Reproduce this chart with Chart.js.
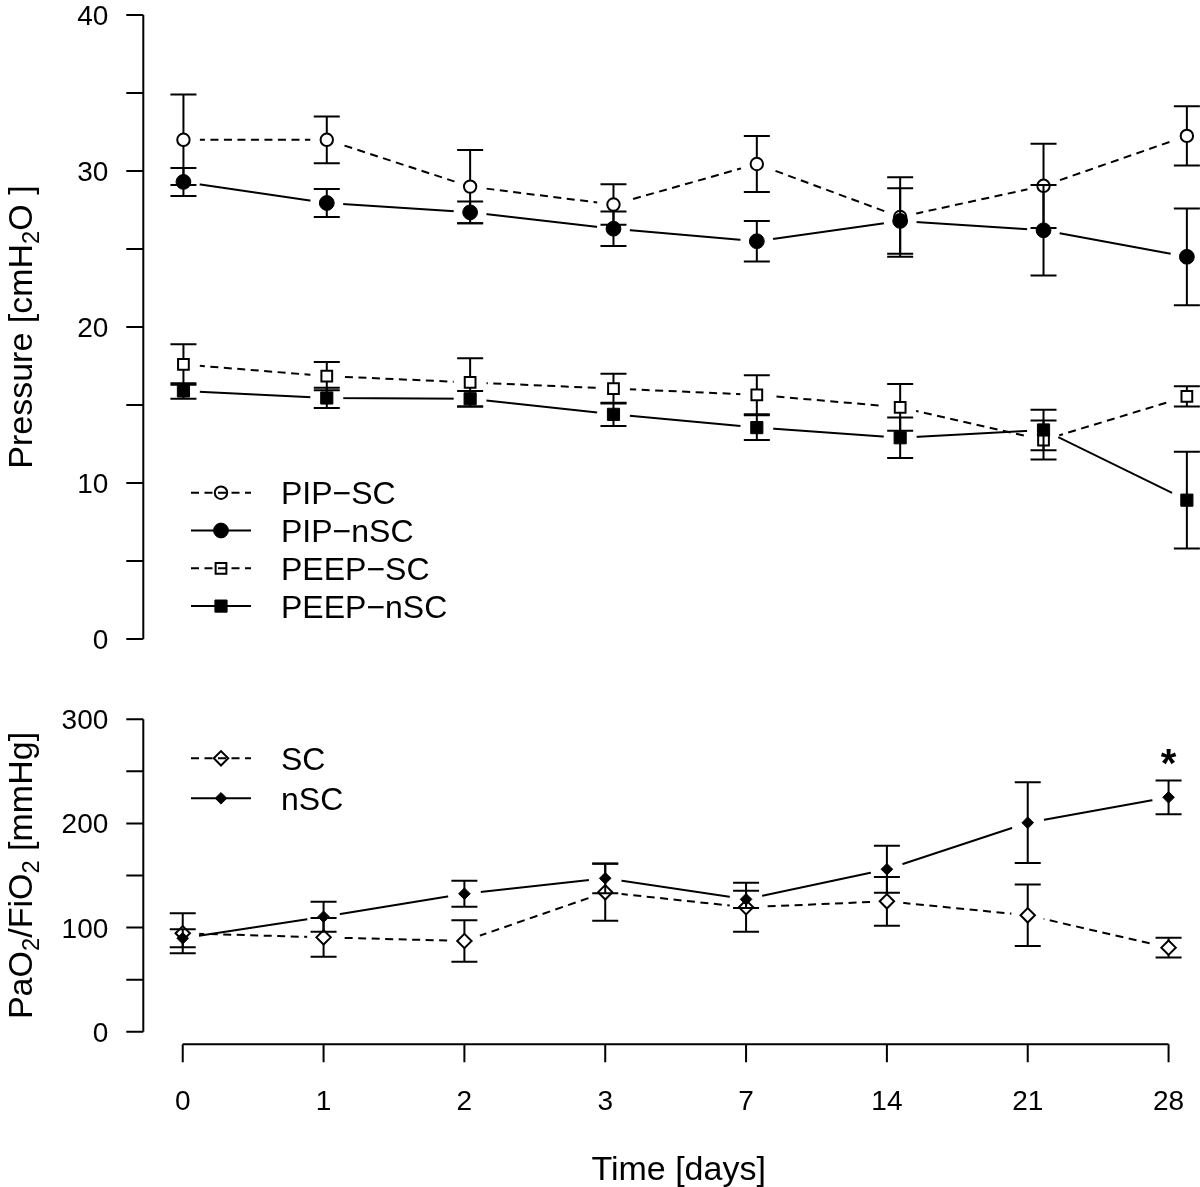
<!DOCTYPE html>
<html>
<head>
<meta charset="utf-8">
<title>Pressure and PaO2/FiO2 over time</title>
<script src="https://cdn.jsdelivr.net/npm/chart.js"></script>
<style>
  html, body { margin: 0; padding: 0; background: #fff; overflow: hidden; }
  #wrap { position: relative; width: 1200px; height: 1187px; overflow: hidden; background: #fff; }
  canvas { position: absolute; left: 0; }
  #chart_pressure { top: 0; }
  #chart_pf { top: 690px; }
</style>
</head>
<body>
<div id="wrap">
  <canvas id="chart_pressure" width="1227" height="660"></canvas>
  <canvas id="chart_pf" width="1208" height="497"></canvas>
</div>
<script>
// time points (days)
const days = ['0', '1', '2', '3', '7', '14', '21', '28'];

// PIP / PEEP in cmH2O: mean and half length of the error bar
const pipSC      = [32.0, 32.0, 29.0, 27.85, 30.45, 27.05, 29.05, 32.25];
const pipSCErr   = [2.9, 1.5, 2.35, 1.3, 1.8, 2.55, 2.7, 1.9];
const pipNSC     = [29.3, 27.95, 27.35, 26.3, 25.5, 26.8, 26.2, 24.5];
const pipNSCErr  = [0.9, 0.9, 0.7, 1.1, 1.3, 2.1, 2.9, 3.1];
const peepSC     = [17.6, 16.85, 16.45, 16.05, 15.65, 14.85, 12.75, 15.55];
const peepSCErr  = [1.3, 0.9, 1.55, 0.95, 1.25, 1.5, 1.25, 0.65];
const peepNSC    = [15.9, 15.45, 15.4, 14.4, 13.55, 12.9, 13.4, 8.9];
const peepNSCErr = [0.5, 0.65, 0.5, 0.75, 0.8, 1.3, 1.3, 3.1];

// PaO2/FiO2 in mmHg
const pfSC     = [94.5, 90.6, 87.1, 133.9, 119.5, 125.2, 111.8, 80.7];
const pfSCErr  = [19.2, 18.6, 20.0, 27.3, 23.5, 23.4, 29.5, 9.5];
const pfNSC    = [89.7, 110.4, 132.5, 147.3, 127.1, 156.0, 200.7, 225.1];
const pfNSCErr = [8.6, 14.4, 12.4, 14.3, 8.3, 22.6, 38.8, 16.2];

// axis ticks
const pressureTicks  = [0, 5, 10, 15, 20, 25, 30, 35, 40];
const pressureLabels = [0, 10, 20, 30, 40];
const pfTicks  = [0, 50, 100, 150, 200, 250, 300];
const pfLabels = [0, 100, 200, 300];

// significance marks (bottom panel)
const starDays   = ['28'];
const starValues = [264];

const FONT = '"Liberation Sans", Arial, Helvetica, sans-serif';
const DASH = [8, 5.5];
const TICK_SIZE = 28;
const TITLE_SIZE = 34;

// draw a marker shape like chart.js does
function shapePath(ctx, shape, x, y, r) {
    ctx.beginPath();
    if (shape === 'circle') {
        ctx.arc(x, y, r, 0, Math.PI * 2);
    } else if (shape === 'rect') {
        let s = Math.SQRT1_2 * r;
        ctx.rect(x - s, y - s, 2 * s, 2 * s);
    } else {
        ctx.moveTo(x - r, y);
        ctx.lineTo(x, y - r);
        ctx.lineTo(x + r, y);
        ctx.lineTo(x, y + r);
        ctx.closePath();
    }
}

// text with subscripts, centred on 0 along the baseline
function drawRich(ctx, parts, size) {
    let widths = [];
    let total = 0;
    parts.forEach(function(p) {
        ctx.font = (p.sub ? size * 0.7 : size) + 'px ' + FONT;
        let w = ctx.measureText(p.t).width;
        widths.push(w);
        total += w;
    });
    let x = -total / 2;
    parts.forEach(function(p, i) {
        ctx.font = (p.sub ? size * 0.7 : size) + 'px ' + FONT;
        ctx.fillText(p.t, x, p.sub ? size * 0.22 : 0);
        x += widths[i];
    });
}

// R style axes, error bars, gaps round the points, legend
function rPlugin(cfg) {
    return {
        id: 'rStyle',
        beforeDatasetDraw(chart, args) {
            let ds = chart.data.datasets[args.index];
            let ctx = chart.ctx;
            if (ds.gapRadius) {
                // leave a gap round every point, like type = "b"
                ctx.save();
                ctx.beginPath();
                ctx.rect(0, 0, chart.width, chart.height);
                args.meta.data.forEach(function(pt) {
                    ctx.moveTo(pt.x + ds.gapRadius, pt.y);
                    ctx.arc(pt.x, pt.y, ds.gapRadius, 0, Math.PI * 2, true);
                });
                ctx.clip('evenodd');
            }
            if (ds.errs) {
                let yScale = chart.scales.y;
                ctx.save();
                ctx.strokeStyle = '#000';
                ctx.lineWidth = 2;
                ctx.setLineDash([]);
                args.meta.data.forEach(function(pt, i) {
                    let v = ds.data[i].y;
                    let top = yScale.getPixelForValue(v + ds.errs[i]);
                    let bot = yScale.getPixelForValue(v - ds.errs[i]);
                    ctx.beginPath();
                    ctx.moveTo(pt.x, top);
                    ctx.lineTo(pt.x, bot);
                    ctx.moveTo(pt.x - 13, top);
                    ctx.lineTo(pt.x + 13, top);
                    ctx.moveTo(pt.x - 13, bot);
                    ctx.lineTo(pt.x + 13, bot);
                    ctx.stroke();
                });
                ctx.restore();
            }
        },
        afterDatasetDraw(chart, args) {
            let ds = chart.data.datasets[args.index];
            if (ds.gapRadius) chart.ctx.restore();
        },
        afterDraw(chart) {
            let ctx = chart.ctx;
            let area = chart.chartArea;
            let xScale = chart.scales.x;
            let yScale = chart.scales.y;
            ctx.save();
            ctx.strokeStyle = '#000';
            ctx.fillStyle = '#000';
            ctx.lineWidth = 2;
            ctx.setLineDash([]);

            // y axis
            let ax = area.left;
            let y0 = yScale.getPixelForValue(cfg.yTicks[0]);
            let y1 = yScale.getPixelForValue(cfg.yTicks[cfg.yTicks.length - 1]);
            ctx.beginPath();
            ctx.moveTo(ax, y0);
            ctx.lineTo(ax, y1);
            cfg.yTicks.forEach(function(t) {
                let py = yScale.getPixelForValue(t);
                ctx.moveTo(ax - 17, py);
                ctx.lineTo(ax, py);
            });
            ctx.stroke();
            ctx.font = TICK_SIZE + 'px ' + FONT;
            ctx.textAlign = 'right';
            ctx.textBaseline = 'alphabetic';
            cfg.yLabels.forEach(function(t) {
                ctx.fillText(String(t), ax - 35, yScale.getPixelForValue(t) + TICK_SIZE * 0.358);
            });

            // y title
            ctx.save();
            ctx.translate(32, (area.top + area.bottom) / 2);
            ctx.rotate(-Math.PI / 2);
            ctx.textAlign = 'left';
            drawRich(ctx, cfg.yTitle, TITLE_SIZE);
            ctx.restore();

            // x axis
            if (cfg.xTitle) {
                let ay = area.bottom + 0.04 * (area.bottom - area.top);
                let x0 = xScale.getPixelForValue(0);
                let x1 = xScale.getPixelForValue(days.length - 1);
                ctx.beginPath();
                ctx.moveTo(x0, ay);
                ctx.lineTo(x1, ay);
                days.forEach(function(d, i) {
                    let px = xScale.getPixelForValue(i);
                    ctx.moveTo(px, ay);
                    ctx.lineTo(px, ay + 18);
                });
                ctx.stroke();
                ctx.font = TICK_SIZE + 'px ' + FONT;
                ctx.textAlign = 'center';
                days.forEach(function(d, i) {
                    ctx.fillText(d, xScale.getPixelForValue(i), ay + 55.7 + TICK_SIZE * 0.358);
                });
                ctx.save();
                ctx.translate((x0 + x1) / 2 + 3, ay + 136);
                ctx.textAlign = 'left';
                drawRich(ctx, cfg.xTitle, TITLE_SIZE);
                ctx.restore();
            }

            // legend
            cfg.series.forEach(function(s, i) {
                let ly = cfg.legendY + i * cfg.legendStep;
                ctx.lineWidth = 2;
                ctx.setLineDash(s.dashed ? DASH : []);
                ctx.beginPath();
                ctx.moveTo(191, ly);
                ctx.lineTo(251, ly);
                ctx.stroke();
                ctx.setLineDash([]);
                shapePath(ctx, s.shape, 221, ly, s.r);
                if (s.filled) {
                    ctx.fill();
                    ctx.lineWidth = 1;
                }
                ctx.stroke();
                ctx.font = '32px ' + FONT;
                ctx.textAlign = 'left';
                ctx.fillText(s.name, 281, ly + 32 * 0.358);
            });

            // significance stars
            if (cfg.stars) {
                ctx.font = 'bold 40px ' + FONT;
                ctx.textAlign = 'center';
                cfg.stars.days.forEach(function(d, i) {
                    let m = ctx.measureText('*');
                    let px = xScale.getPixelForValue(days.indexOf(d));
                    let py = yScale.getPixelForValue(cfg.stars.values[i]);
                    ctx.fillText('*', px, py + (m.actualBoundingBoxAscent - m.actualBoundingBoxDescent) / 2);
                });
            }
            ctx.restore();
        }
    };
}

// line datasets first (drawn underneath), then bars + markers per series
function buildDatasets(series) {
    let lines = [];
    let marks = [];
    series.forEach(function(s) {
        let pts = s.values.map(function(v, i) { return {x: i, y: v}; });
        lines.push({
            label: s.name + ' line',
            data: pts,
            showLine: true,
            borderColor: '#000',
            borderWidth: 2,
            borderDash: s.dashed ? DASH : [],
            pointRadius: 0,
            pointHoverRadius: 0,
            tension: 0,
            fill: false,
            clip: false,
            gapRadius: 16.5
        });
        marks.push({
            label: s.name,
            data: pts,
            showLine: false,
            pointStyle: s.shape,
            pointRadius: s.r,
            pointHoverRadius: s.r,
            pointBorderWidth: s.filled ? 1 : 2,
            pointBorderColor: '#000',
            pointBackgroundColor: s.filled ? '#000' : '#fff',
            clip: false,
            errs: s.errs
        });
    });
    let all = lines.concat(marks);
    // lowest order is drawn last
    all.forEach(function(ds, i) { ds.order = all.length - i; });
    return all;
}

function makeChart(id, series, yTicks, pad, cfg) {
    cfg.series = series;
    cfg.yTicks = yTicks;
    return new Chart(document.getElementById(id).getContext('2d'), {
        type: 'line',
        data: { datasets: buildDatasets(series) },
        options: {
            responsive: false,
            animation: false,
            events: [],
            layout: { padding: pad, autoPadding: false },
            plugins: {
                legend: { display: false },
                title: { display: false },
                tooltip: { enabled: false }
            },
            scales: {
                x: { type: 'linear', min: -0.28, max: days.length - 1 + 0.28, display: false },
                y: { type: 'linear', min: yTicks[0], max: yTicks[yTicks.length - 1], display: false }
            }
        },
        plugins: [rPlugin(cfg)]
    });
}

const pressureSeries = [
    { name: 'PIP\u2212SC',   values: pipSC,   errs: pipSCErr,   dashed: true,  shape: 'circle', r: 6.2, filled: false },
    { name: 'PIP\u2212nSC',  values: pipNSC,  errs: pipNSCErr,  dashed: false, shape: 'circle', r: 7.4, filled: true },
    { name: 'PEEP\u2212SC',  values: peepSC,  errs: peepSCErr,  dashed: true,  shape: 'rect',   r: 7.6, filled: false },
    { name: 'PEEP\u2212nSC', values: peepNSC, errs: peepNSCErr, dashed: false, shape: 'rect',   r: 8.6, filled: true }
];

const pfSeries = [
    { name: 'SC',  values: pfSC,  errs: pfSCErr,  dashed: true,  shape: 'rectRot', r: 7.2, filled: false },
    { name: 'nSC', values: pfNSC, errs: pfNSCErr, dashed: false, shape: 'rectRot', r: 5.8, filled: true }
];

makeChart('chart_pressure', pressureSeries, pressureTicks,
    { left: 143.3, top: 15, right: 0, bottom: 21 },
    {
        yLabels: pressureLabels,
        yTitle: [{t: 'Pressure [cmH'}, {t: '2', sub: true}, {t: 'O ]'}],
        legendY: 492.7,
        legendStep: 37.8
    });

makeChart('chart_pf', pfSeries, pfTicks,
    { left: 143.3, top: 29.3, right: 0, bottom: 155.3 },
    {
        yLabels: pfLabels,
        yTitle: [{t: 'PaO'}, {t: '2', sub: true}, {t: '/FiO'}, {t: '2', sub: true}, {t: ' [mmHg]'}],
        xTitle: [{t: 'Time [days]'}],
        legendY: 68.3,
        legendStep: 40,
        stars: { days: starDays, values: starValues }
    });
</script>
</body>
</html>
